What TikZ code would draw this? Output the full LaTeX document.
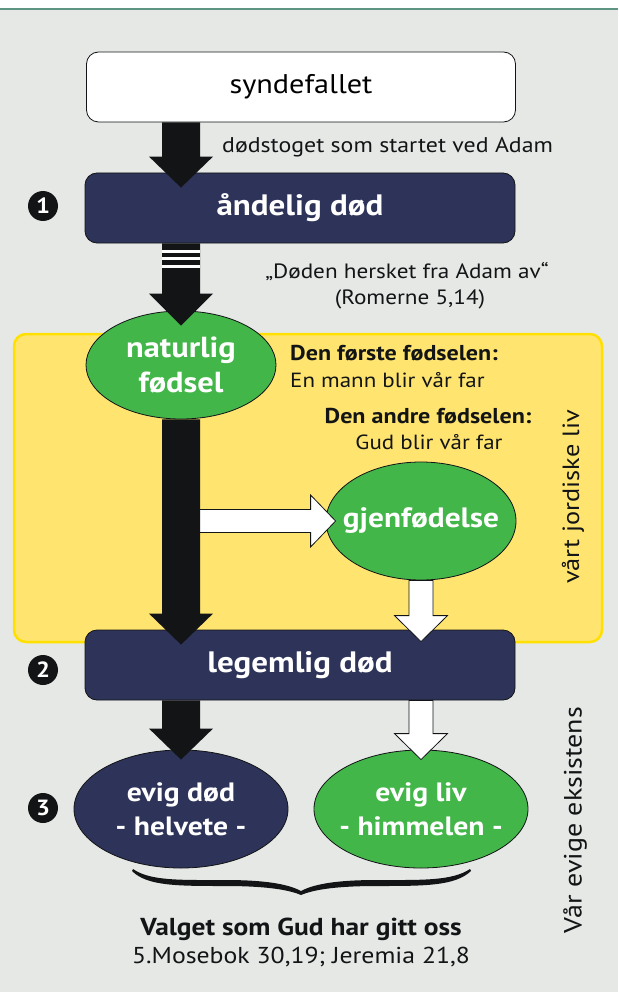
\documentclass[tikz,border=0pt]{standalone}
\usepackage{fontspec}
\setmainfont[FakeStretch=1.12]{PT Sans}
\usetikzlibrary{calc,shapes.geometric}
\definecolor{navy}{HTML}{2E3359}
\definecolor{grn}{HTML}{43B649}
\definecolor{ylw}{HTML}{FFE56F}
\definecolor{ylwb}{HTML}{FFE000}
\definecolor{bg}{HTML}{E6E8E6}
\definecolor{blk}{HTML}{121416}
\definecolor{topline}{HTML}{5E9482}
\newcommand\myDownArrow[6]{%
  \path[#1] let \p1=#2, \p2=#3 in
    (\x1-#4pt,\y1) -- (\x1+#4pt,\y1) -- (\x1+#4pt,\y2+#6pt) -- (\x1+#5pt,\y2+#6pt)
    -- (\x1,\y2) -- (\x1-#5pt,\y2+#6pt) -- (\x1-#4pt,\y2+#6pt) -- cycle;}
\newcommand\myRightArrow[6]{%
  \path[#1] let \p1=#2, \p2=#3 in
    (\x1,\y1+#4pt) -- (\x1,\y1-#4pt) -- (\x2-#6pt,\y1-#4pt) -- (\x2-#6pt,\y1-#5pt)
    -- (\x2,\y1) -- (\x2-#6pt,\y1+#5pt) -- (\x2-#6pt,\y1+#4pt) -- cycle;}
\newcommand\fs[2]{\fontsize{#1}{#2}\selectfont}
\begin{document}
\begin{tikzpicture}[x=1pt,y=-1pt,
  boxw/.style={draw=blk, line width=0.8pt, fill=white, rounded corners=12pt,
    minimum width=429pt, minimum height=70pt, inner sep=0pt,
    font=\fs{27}{30}},
  boxn/.style={draw=blk, line width=0.8pt, fill=navy, rounded corners=12pt,
    minimum width=430pt, minimum height=70pt, inner sep=0pt, text=white,
    font=\bfseries\fs{29.5}{30}},
  ell/.style={ellipse, draw=blk, line width=0.8pt, inner sep=0pt},
  elltext/.style={text=white, align=center, inner sep=0pt},
  blkarrow/.style={fill=blk},
  whtarrow/.style={fill=white, draw=blk, line width=0.8pt, line join=miter},
  num/.style={circle, fill=blk, minimum size=30pt, inner sep=0pt, text=white,
    font=\bfseries\fs{22}{22}},
  lbl/.style={font=\fs{20}{26}, text=blk, inner sep=0pt}]
\useasboundingbox (0,0) rectangle (618,992);
\fill[white] (0,0) rectangle (618,9);
\fill[bg] (0,9) rectangle (618,992);
\draw[topline, line width=2pt] (0,9) -- (618,9);
% yellow area
\draw[ylwb, line width=2.5pt, fill=ylw, rounded corners=12pt] (14,334) rectangle (602,642);
% nodes
\node[boxw] (syn) at (301,87) {syndefallet};
\node[boxn] (and) at (300,208) {åndelig død};
\node[boxn] (leg) at (300,665) {legemlig død};
\node[ell, fill=grn, minimum width=190pt, minimum height=108pt] (nat) at (181,365) {};
\node[ell, fill=grn, minimum width=190pt, minimum height=118pt] (gjen) at (421,521) {};
\node[ell, fill=navy, minimum width=214pt, minimum height=118pt] (ed) at (181,809) {};
\node[ell, fill=grn, minimum width=214pt, minimum height=118pt] (el) at (421,809) {};
\node[elltext, font=\bfseries\fs{29}{35}] (natt) at (nat.center) {naturlig\\fødsel};
\node[elltext, font=\bfseries\fs{28}{34}] (gjent) at (gjen.center) {gjenfødelse};
\node[elltext, font=\bfseries\fs{26.5}{34}] (edt) at (ed.center) {evig død\\- helvete -};
\node[elltext, font=\bfseries\fs{26.5}{34}] (elt) at (el.center) {evig liv\\- himmelen -};
% numbers
\node[num] (n1) at (43,206) {1};
\node[num] (n2) at (43,670) {2};
\node[num] (n3) at (43,808) {3};
% arrows
\myRightArrow{whtarrow}{(nat.center |- gjen.center)}{($(gjen.west)+(10,0)$)}{11.5}{26}{25}
\myDownArrow{blkarrow}{(syn.south -| nat.center)}{($(and.north -| nat.center)+(0,15)$)}{19}{32}{31}
\myDownArrow{blkarrow}{(and.south -| nat.center)}{($(nat.north)+(0,15)$)}{19}{32}{32}
\myDownArrow{blkarrow}{(nat.south)}{($(leg.north -| nat.center)+(0,15)$)}{19}{32}{31}
\myDownArrow{blkarrow}{(leg.south -| ed.center)}{($(ed.north)+(0,10)$)}{19}{32}{31}
\myDownArrow{whtarrow}{(gjen.south)}{($(leg.north -| gjen.center)+(0,12)$)}{12}{26.5}{26}
\myDownArrow{whtarrow}{(leg.south -| el.center)}{($(el.north)+(0,10)$)}{12}{26.5}{26}
% stripes
\foreach \s in {6.5,14,21.5}{
  \fill[white] ($(and.south -| nat.center)+(-19,\s)$) rectangle ++(38,2.6);}
% labels
\node[lbl, anchor=base west, font=\fs{21.3}{26}] (t1) at (222,153) {dødstoget som startet ved Adam};
\node[lbl, anchor=base, font=\fs{20.7}{26}] (t2) at (407,278) {„Døden hersket fra Adam av“};
\node[lbl, anchor=base, font=\fs{20.7}{26}] (t3) at (410,304) {(Romerne 5,14)};
\node[lbl, anchor=base west, font=\bfseries\fs{21.5}{24}] (t4) at (290,360) {Den første fødselen:};
\node[lbl, anchor=base west, font=\fs{20.5}{24}] (t5) at (290,387) {En mann blir vår far};
\node[lbl, anchor=base, font=\bfseries\fs{21.5}{24}] (t6) at (428,423) {Den andre fødselen:};
\node[lbl, anchor=base, font=\fs{20.5}{24}] (t7) at (429,449) {Gud blir vår far};
\node[lbl, rotate=90, font=\fs{23.5}{24}] (t8) at (573,497) {vårt jordiske liv};
\node[lbl, rotate=90, font=\fs{25}{26}] (t9) at (575,820) {Vår evige eksistens};
\node[lbl, anchor=base, font=\bfseries\fs{24.5}{26}] (t10) at (301,935) {Valget som Gud har gitt oss};
\node[lbl, anchor=base, font=\fs{23}{26}] (t11) at (301,963) {5.Mosebok 30,19; Jeremia 21,8};
% brace
\fill[blk] (133,869) .. controls (150,881) and (180,880) .. (225,880)
  .. controls (265,880) and (288,884) .. (301,891)
  .. controls (314,884) and (337,880) .. (377,880)
  .. controls (422,880) and (452,881) .. (470,869)
  -- (471,871) .. controls (455,886) and (425,886) .. (377,886)
  .. controls (340,886) and (315,889) .. (301,895)
  .. controls (287,889) and (262,886) .. (225,886)
  .. controls (177,886) and (147,886) .. (132,871) -- cycle;
\end{tikzpicture}
\end{document}
